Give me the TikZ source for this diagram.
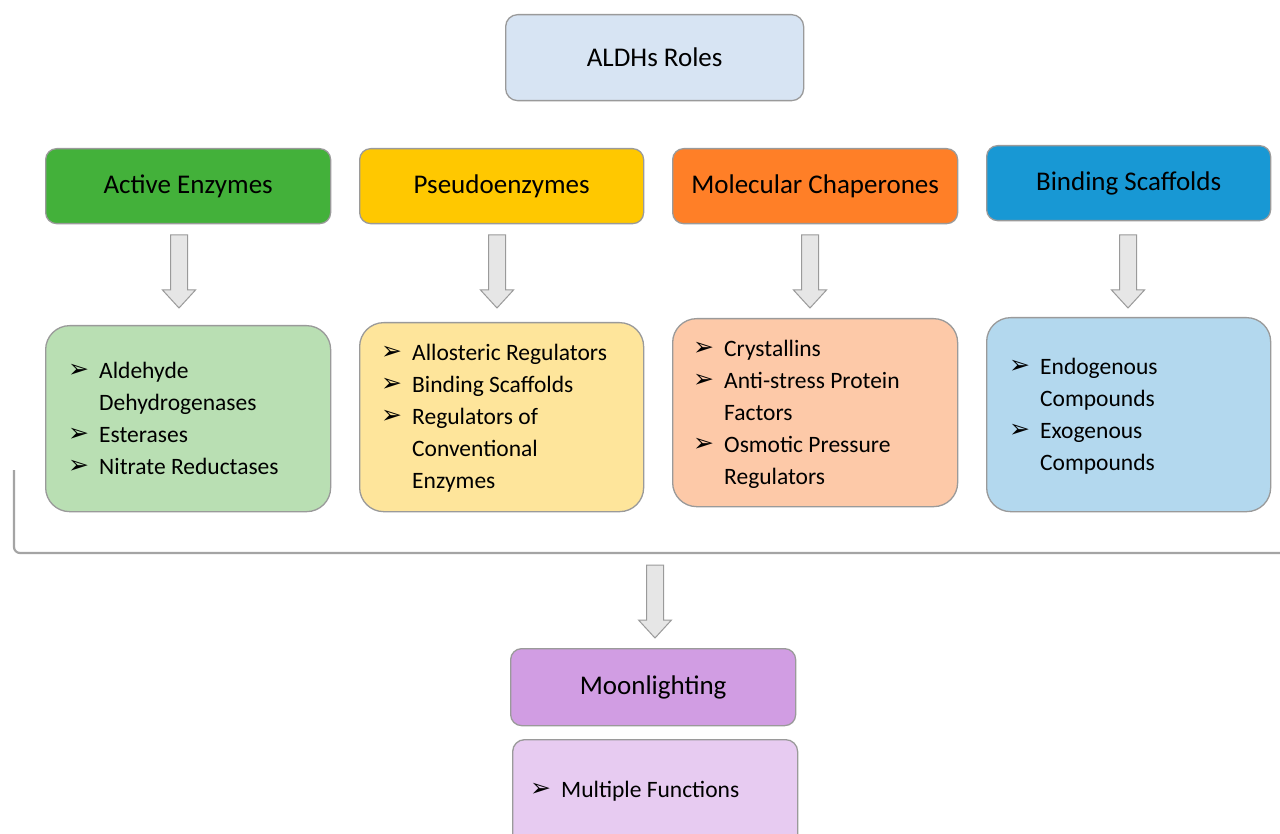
\documentclass[tikz,border=0pt]{standalone}
\usepackage{fontspec}
\setmainfont{Carlito}
\newfontfamily\symfont{DejaVu Sans}
\usetikzlibrary{calc}
\definecolor{bordergray}{HTML}{9A9A9A}
\definecolor{titlefill}{HTML}{D7E4F3}
\definecolor{gA}{HTML}{43B13A}\definecolor{gAl}{HTML}{B9DFB3}
\definecolor{gB}{HTML}{FFC800}\definecolor{gBl}{HTML}{FEE59B}
\definecolor{gC}{HTML}{FF7F27}\definecolor{gCl}{HTML}{FDC9A8}
\definecolor{gD}{HTML}{1898D4}\definecolor{gDl}{HTML}{B3D8EE}
\definecolor{gE}{HTML}{D19DE3}\definecolor{gEl}{HTML}{E7CBF1}
\definecolor{arrowfill}{HTML}{E6E6E6}
\newcommand{\bul}{\makebox[31pt][l]{\raisebox{1pt}{\symfont\fontsize{25}{32}\selectfont ➢}}}
\newcommand{\ind}{\hspace*{31pt}}
\tikzset{
  hbox/.style={draw=bordergray, line width=1.3pt, rounded corners=11pt, anchor=north west, inner sep=0pt,
    font=\fontsize{27}{30}\selectfont},
  cbox/.style={draw=bordergray, line width=1.3pt, rounded corners=24pt, anchor=north west, inner sep=0pt},
  items/.style={anchor=north west, inner sep=0pt, align=left, font=\fontsize{23.5}{32}\selectfont},
  barrow/.style={draw=bordergray, fill=arrowfill, line width=1pt, line join=miter},
  bracket/.style={draw=bordergray!90, line width=2.2pt, rounded corners=6pt}
}
\newcommand{\blockarrow}[3]{% x, ytop, ybot
  \path[barrow] (#1-8.5,#2) -- (#1+8.5,#2) -- (#1+8.5,#3-18) -- (#1+16.5,#3-18) -- (#1,#3) -- (#1-16.5,#3-18) -- (#1-8.5,#3-18) -- cycle;}
\begin{document}
\begin{tikzpicture}[x=1pt,y=-1pt]
\useasboundingbox (0,0) rectangle (1280,834);
\clip (0,0) rectangle (1280,834);
\fill[white] (0,0) rectangle (1280,834);

% title
\node[hbox, fill=titlefill, minimum width=298pt, minimum height=86pt, rounded corners=12pt] (title) at (505,14) {ALDHs Roles};

% headers
\node[hbox, fill=gA, minimum width=285pt, minimum height=75pt] (hA) at (45,148) {Active Enzymes};
\node[hbox, fill=gB, minimum width=284pt, minimum height=75pt] (hB) at (359,148) {Pseudoenzymes};
\node[hbox, fill=gC, minimum width=285pt, minimum height=75pt] (hC) at (672,148) {Molecular Chaperones};
\node[hbox, fill=gD, minimum width=284pt, minimum height=75pt] (hD) at (986,145) {Binding Scaffolds};

% arrows
\blockarrow{179}{235}{308}
\blockarrow{497}{235}{308}
\blockarrow{810}{235}{308}
\blockarrow{1128}{235}{308}

% content boxes
\node[cbox, fill=gAl, minimum width=285pt, minimum height=186pt] (cA) at (45,325) {};
\node[cbox, fill=gBl, minimum width=284pt, minimum height=189pt] (cB) at (359,322) {};
\node[cbox, fill=gCl, minimum width=285pt, minimum height=188pt] (cC) at (672,318) {};
\node[cbox, fill=gDl, minimum width=284pt, minimum height=194pt] (cD) at (986,317) {};

\node[items] (tA) at (68,362) {\bul Aldehyde\\\ind Dehydrogenases\\\bul Esterases\\\bul Nitrate Reductases};
\node[items] (tB) at (381,344) {\bul Allosteric Regulators\\\bul Binding Scaffolds\\\bul Regulators of\\\ind Conventional\\\ind Enzymes};
\node[items] (tC) at (693,340) {\bul Crystallins\\\bul Anti-stress Protein\\\ind Factors\\\bul Osmotic Pressure\\\ind Regulators};
\node[items] (tD) at (1009,358) {\bul Endogenous\\\ind Compounds\\\bul Exogenous\\\ind Compounds};

% bracket
\coordinate (brA) at (14,470);
\coordinate (brB) at (14,553);
\coordinate (brC) at (1280,553);
\draw[bracket] (brA) -- (brB) -- (brC);

\blockarrow{655}{565}{638}

% moonlighting
\node[hbox, fill=gE, minimum width=285pt, minimum height=77pt] (hE) at (510,648) {Moonlighting};
\node[cbox, fill=gEl, minimum width=285pt, minimum height=110pt, rounded corners=12pt] (cE) at (512,739) {};
\node[items] (tE) at (530,781) {\bul Multiple Functions};
\end{tikzpicture}
\end{document}
